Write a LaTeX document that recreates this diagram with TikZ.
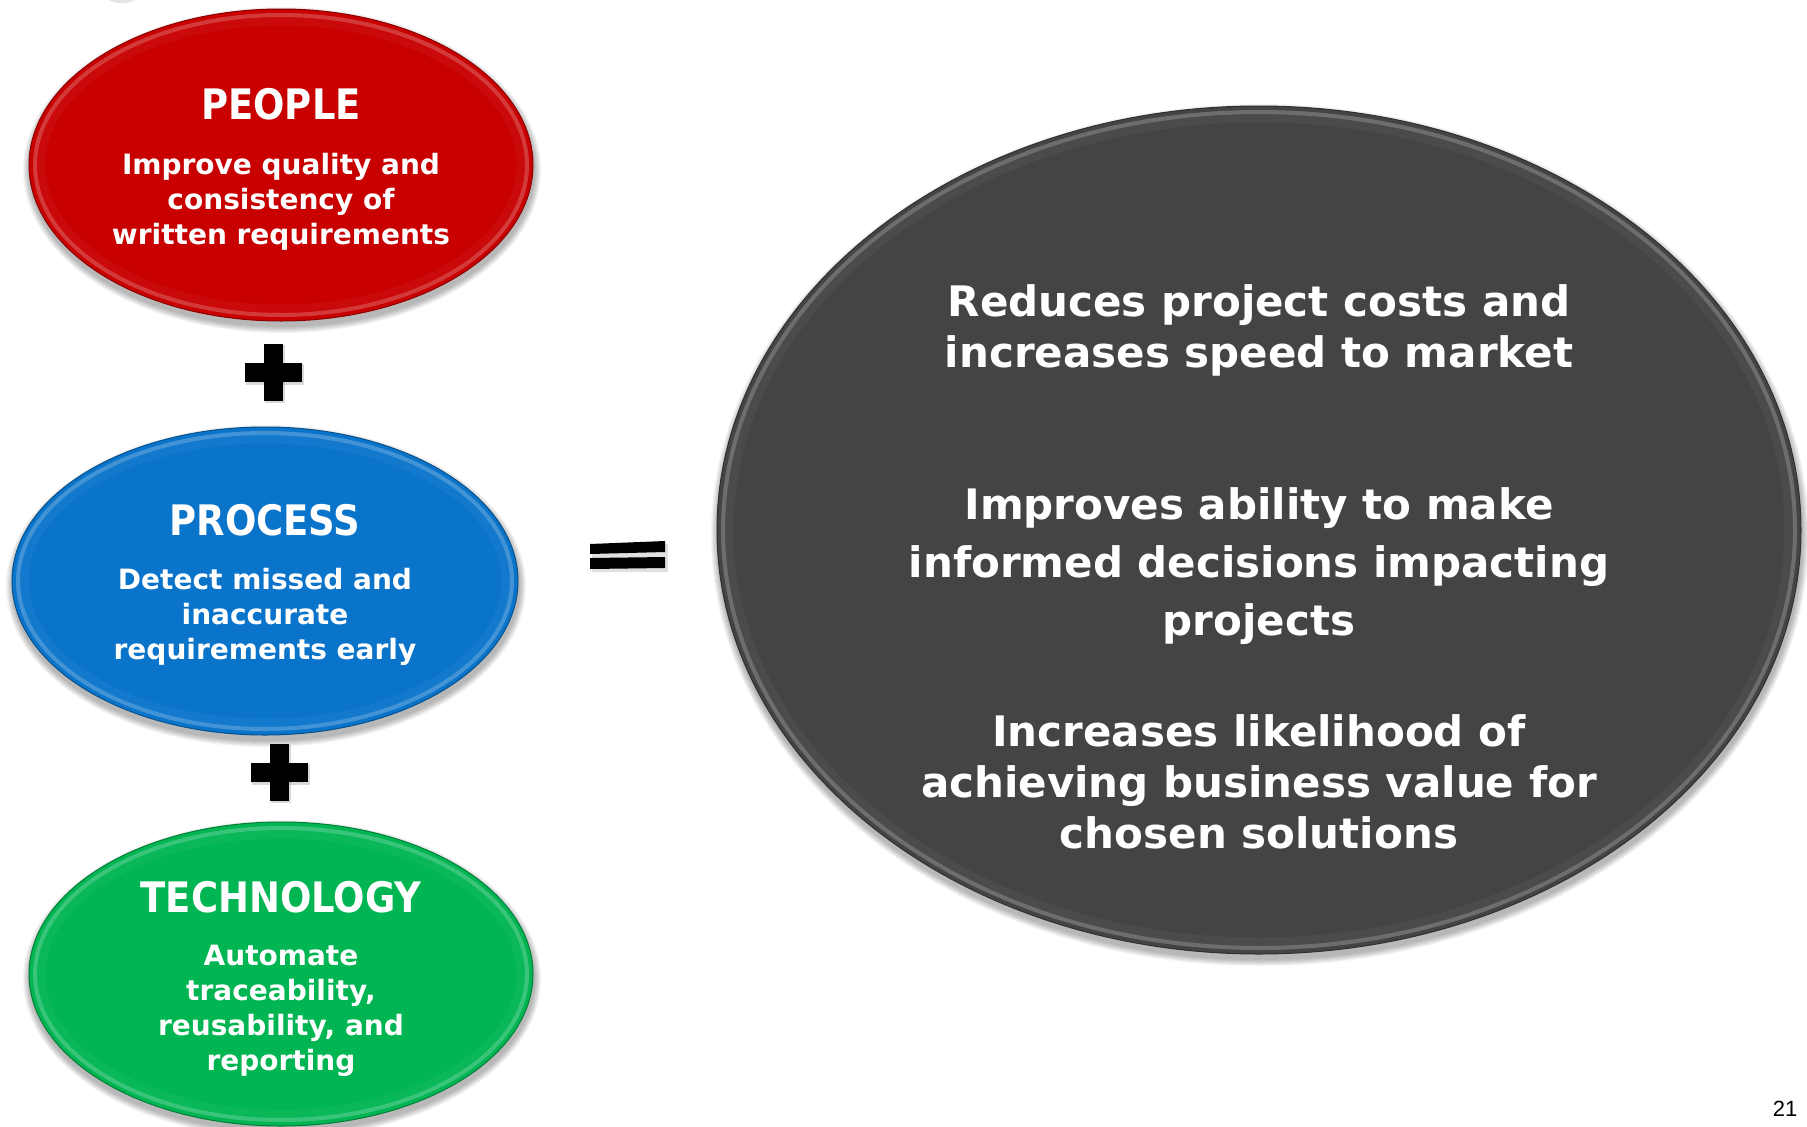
\documentclass[tikz,border=0pt]{standalone}
\usepackage{fontspec}
\setmainfont{DejaVu Sans}
\newfontfamily\titlefont[FakeStretch=0.88]{DejaVu Sans}
\newfontfamily\numfont{Liberation Sans}
\usetikzlibrary{shapes.geometric}
\definecolor{cred}{HTML}{C80000}
\definecolor{cblue}{HTML}{0A74CA}
\definecolor{cgreen}{HTML}{00B552}
\definecolor{cgray}{HTML}{444444}
\tikzset{
  ttl/.style={text=white, font=\titlefont\bfseries\fontsize{42}{48}\selectfont, inner sep=0pt, align=center},
  bdy/.style={text=white, font=\bfseries\fontsize{28}{35}\selectfont, inner sep=0pt, align=center},
  bigtxt/.style={text=white, font=\bfseries\fontsize{42}{51}\selectfont, inner sep=0pt, align=center},
  signfill/.style={fill=black},
}
\newcommand\myblob[6]{%
  \foreach \k in {1,...,7}{\fill[black,opacity=0.045] (#2+1,#3+5) ellipse [x radius={#4+\k}, y radius={#5+\k}];}
  \node[ellipse, fill=#6, draw=#6!70!black, line width=1pt, inner sep=0pt, minimum width={2*#4pt}, minimum height={2*#5pt}] (#1) at (#2,#3) {};
  \draw[#6!50!white, line width=4pt, opacity=0.45] (#1.center) ellipse [x radius={#4-6}, y radius={#5-6}];
  \draw[#6!60!white, line width=9pt, opacity=0.10] (#1.center) ellipse [x radius={#4-12}, y radius={#5-12}];
}
\begin{document}
\begin{tikzpicture}[x=1pt,y=-1pt]
\useasboundingbox (0,0) rectangle (1807,1127);
\fill[white] (0,0) rectangle (1807,1127);
\clip (0,0) rectangle (1807,1127);
% faint smudge top-left
\fill[gray!60,opacity=0.35] (122,-2) ellipse [x radius=14, y radius=5];

% left ellipses
\myblob{people}{281}{165}{252}{156}{cred}
\myblob{process}{265}{581}{253}{154}{cblue}
\myblob{tech}{281}{974}{252}{152}{cgreen}
% right ellipse
\myblob{result}{1259}{530}{542}{424}{cgray}

% texts
\node[ttl] (peopleT) at (281,104) {PEOPLE};
\node[bdy] (peopleB) at (281,201.5) {Improve quality and\\consistency of\\written requirements};
\node[ttl] (processT) at (265,520) {PROCESS};
\node[bdy] (processB) at (265,617) {Detect missed and\\inaccurate\\requirements early};
\node[ttl] (techT) at (281,897) {TECHNOLOGY};
\node[bdy] (techB) at (281,1011) {Automate\\traceability,\\reusability, and\\reporting};

\node[bigtxt] (r1) at (1259,330) {Reduces project costs and\\increases speed to market};
\node[bigtxt, font=\bfseries\fontsize{42}{58}\selectfont] (r2) at (1259,566) {Improves ability to make\\informed decisions impacting\\projects};
\node[bigtxt] (r3) at (1259,782) {Increases likelihood of\\achieving business value for\\chosen solutions};

% plus signs
\coordinate (plusA) at (273,372);
\coordinate (plusB) at (279,772);
\foreach \p in {plusA,plusB}{
  \fill[black,opacity=0.15] ([shift={(-27,-8)}]\p) rectangle ([shift={(31,13)}]\p);
  \fill[black,opacity=0.15] ([shift={(-8,-27)}]\p) rectangle ([shift={(12,31)}]\p);
  \fill[signfill] ([shift={(-28.5,-9.5)}]\p) rectangle ([shift={(28.5,9.5)}]\p);
  \fill[signfill] ([shift={(-9.5,-28.5)}]\p) rectangle ([shift={(9.5,28.5)}]\p);
}

% equals sign
\coordinate (eq) at (628,555);
\fill[black,opacity=0.12] ([shift={(-36,-9)}]eq) -- ([shift={(40,-11)}]eq) -- ([shift={(40,17)}]eq) -- ([shift={(-36,17)}]eq) -- cycle;
\fill[signfill] ([shift={(-38,-11)}]eq) -- ([shift={(37,-14)}]eq) -- ([shift={(37,-3)}]eq) -- ([shift={(-38,-1)}]eq) -- cycle;
\fill[signfill] ([shift={(-38,3)}]eq) -- ([shift={(37,2)}]eq) -- ([shift={(37,13)}]eq) -- ([shift={(-38,14)}]eq) -- cycle;

% page number
\node[font=\numfont\fontsize{22}{26}\selectfont, inner sep=0pt] (pgnum) at (1785,1109) {21};
\end{tikzpicture}
\end{document}
